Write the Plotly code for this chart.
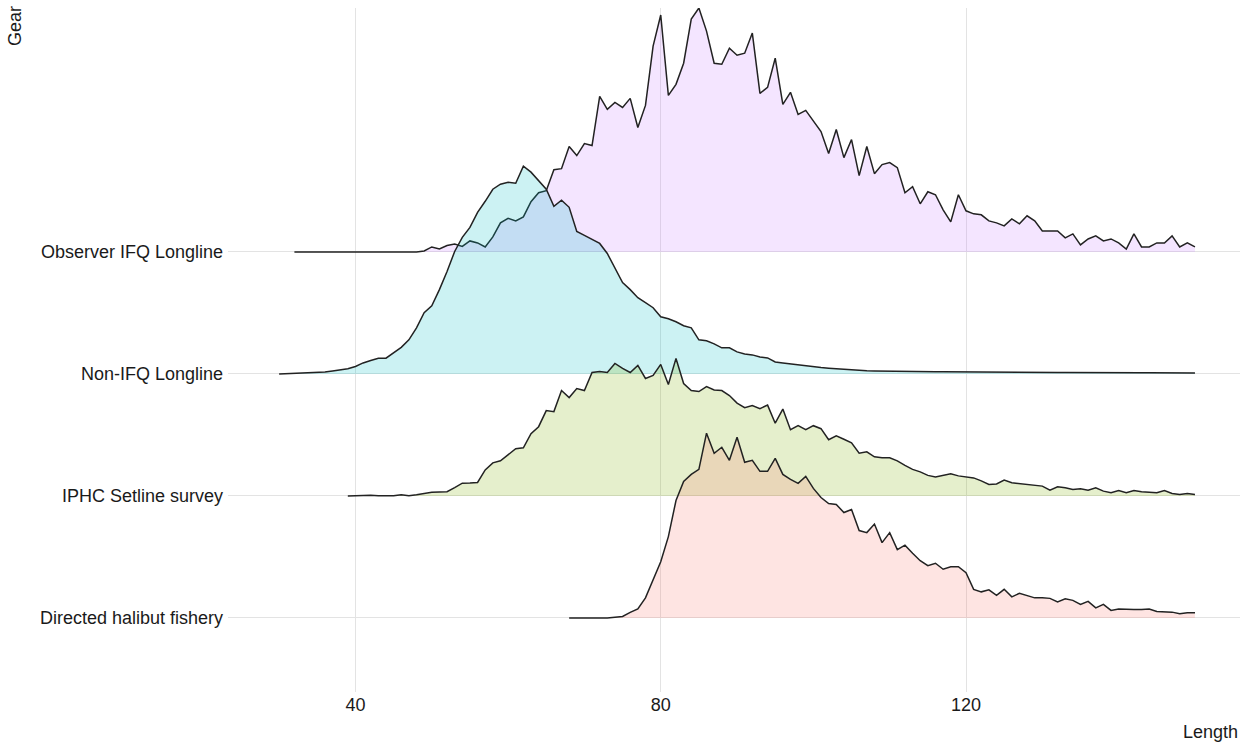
import plotly.graph_objects as go

# Length-frequency (relative) by gear type, 1 cm length bins
gears = ["Directed halibut fishery", "IPHC Setline survey", "Non-IFQ Longline", "Observer IFQ Longline"]
colors = ["#F8766D", "#7CAE00", "#00BFC4", "#C77CFF"]

directed_start = 68
directed = [0, 0, 0, 0, 0, 0, 0.8, 1.5, 5.5, 9, 20, 38, 56, 81, 117, 136, 143, 148, 184, 164,
            170, 157, 180, 155, 157, 146, 146, 159, 143, 138, 134, 141, 129, 120, 114, 113, 105, 108, 87, 85,
            93.5, 75, 85, 68, 72.5, 64.5, 57, 52, 54.5, 48.5, 51, 51, 45, 28.5, 26, 28, 22.5, 28.5, 21, 24.5,
            22, 20, 20, 19.5, 16, 19, 17.5, 13.5, 16.5, 10, 13.5, 7.5, 9, 8.5, 8.5, 8.5, 9, 6.5, 6, 5.8,
            4.2, 5.2, 5.2]

iphc_start = 39
iphc = [0, 0.3, 0.5, 0.7, 0.3, 0, 0.3, 1.3, 0.3, 1.3, 2.5, 3.7, 4, 4.3, 8.3, 12.7, 13, 13.5, 26, 33,
        35, 41, 47, 48, 62, 69, 85, 84, 105, 98, 107, 105, 123, 124, 123, 132, 127, 123, 130, 117,
        120, 131, 111, 137, 112, 105, 104, 109, 105.5, 105, 100, 92.5, 88, 90, 87, 90.5, 72.5, 86.5, 66, 70,
        66, 70, 67, 56, 60, 56.5, 53, 42.5, 44, 39, 38, 38, 35, 30.5, 26.5, 24, 20.5, 19, 20.5, 22,
        20, 19, 18, 15, 11.5, 12, 15.8, 13.2, 12.3, 11.5, 10.5, 9.8, 5.8, 9.2, 8.2, 6.5, 7.2, 5.8, 8.2, 4.8,
        3.2, 5.5, 3.2, 5.5, 4.2, 3.8, 3.2, 5.5, 2.5, 1.5, 2.5, 1.5]

nonifq_start = 30
nonifq = [0, 0.3, 0.5, 0.8, 1.0, 1.3, 2.0, 3.0, 4.0, 5.3, 7.5, 11, 13.5, 15.7, 15.7, 21.3, 26.5, 34, 46, 61,
          68, 84, 102, 122, 136, 146, 161, 172, 184, 189, 191, 190, 207, 201, 192, 184, 167, 173, 166, 142,
          138, 134, 130, 120, 106, 91, 84, 76, 71, 66, 57, 55, 52, 48, 46, 34, 33, 30, 26, 26,
          22, 20, 19, 17, 16, 12, 11, 10, 9, 8, 7.3, 6.5, 5.8, 5.2, 4.5, 3.8, 3.3, 3.1, 3, 3,
          3, 2.8, 2.7, 2.6, 2.5, 2.4, 2.3, 2.2, 2.1, 2.0, 2.0, 1.9, 1.8, 1.8, 1.7, 1.7, 1.6, 1.6, 1.5, 1.5,
          1.5, 1.4, 1.4, 1.4, 1.3, 1.3, 1.3, 1.2, 1.2, 1.2, 1.2, 1.1, 1.1, 1.1, 1.1, 1.0, 1.0, 1.0, 1.0, 1.0,
          1.0]

observer_start = 32
observer = [0, 0, 0, 0, 0, 0, 0, 0, 0, 0, 0, 0, 0, 0, 0, 0, 0, 1, 5, 3,
            6.5, 8, 5.5, 11, 9, 5, 15, 29, 33.5, 31, 35, 50, 59, 61, 82, 83, 105, 96, 108, 106,
            155, 142, 149, 144, 153, 124, 146, 205, 236, 156, 167, 188, 232, 243, 220, 188, 187, 203, 196, 198,
            218, 158, 164, 193, 147, 159, 137, 141, 131, 120, 98, 122, 94, 112, 76, 105, 78, 87, 89, 84,
            59, 65, 48, 60, 57, 42, 30, 57, 41, 38, 37, 31, 29, 26, 33, 28, 36, 31, 21, 21,
            21, 14, 18, 7, 13, 16, 11, 13, 9, 3, 18, 5, 5, 9, 9, 16, 5, 9, 5]

series = [
    (directed_start, directed),
    (iphc_start, iphc),
    (nonifq_start, nonifq),
    (observer_start, observer),
]

x_ticks = [40, 80, 120]
ridge_scale = 2.0
peak = max(max(v) for _, v in series)


def rgba(hex_color, alpha):
    h = hex_color.lstrip("#")
    r, g, b = int(h[0:2], 16), int(h[2:4], 16), int(h[4:6], 16)
    return f"rgba({r},{g},{b},{alpha})"


fig = go.Figure()

# Draw the top ridge first so lower ridges sit in front of it
for idx in reversed(range(len(gears))):
    start, vals = series[idx]
    lengths = list(range(start, start + len(vals)))
    base = idx
    fig.add_trace(go.Scatter(
        x=lengths, y=[base] * len(lengths), mode="lines",
        line=dict(width=0, color="rgba(0,0,0,0)"), hoverinfo="skip", showlegend=False,
    ))
    fig.add_trace(go.Scatter(
        x=lengths, y=[base + ridge_scale * v / peak for v in vals], mode="lines",
        fill="tonexty", fillcolor=rgba(colors[idx], 0.2),
        line=dict(color="#222222", width=1.5), name=gears[idx], showlegend=False,
    ))

font_family = "Liberation Sans, Arial, sans-serif"
txt = dict(size=18, color="#1a1a1a")

fig.update_layout(
    width=1251, height=744,
    margin=dict(l=228, r=11, t=8, b=52),
    paper_bgcolor="white", plot_bgcolor="white",
    font=dict(family=font_family, size=18, color="#1a1a1a"),
    xaxis=dict(
        range=[23.3, 155.9], tickvals=x_ticks, ticktext=[str(t) for t in x_ticks],
        showgrid=True, gridcolor="#e3e3e3", gridwidth=1, zeroline=False,
        showline=False, ticks="", tickfont=txt,
    ),
    yaxis=dict(
        range=[-0.607, 5.0], tickvals=list(range(len(gears))), ticktext=gears,
        showgrid=True, gridcolor="#e3e3e3", gridwidth=1, zeroline=False,
        showline=False, ticks="", ticklabelstandoff=4, tickfont=txt,
    ),
    annotations=[
        dict(text="Length", xref="paper", yref="paper", x=1, y=0, yshift=-40,
             xanchor="right", yanchor="middle", showarrow=False, font=txt),
        dict(text="Gear", xref="paper", yref="paper", x=0, y=1, xshift=-213, yshift=4,
             xanchor="center", yanchor="top", textangle=-90, showarrow=False, font=txt),
    ],
)

fig.write_html("out.html")
